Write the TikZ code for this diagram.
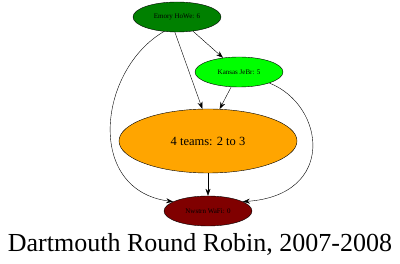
\documentclass[tikz,border=0pt]{standalone}
\usepackage{fontspec}
\setmainfont{Liberation Serif}
\usetikzlibrary{shapes.geometric,arrows.meta}
\definecolor{darkgreen}{RGB}{0,128,0}
\definecolor{lime}{RGB}{0,255,0}
\definecolor{maroon}{RGB}{128,0,0}
\definecolor{gvorange}{RGB}{255,165,0}
\begin{document}
\begin{tikzpicture}[x=1pt,y=-1pt,
    team/.style={shape=ellipse,draw=black,inner sep=0pt,minimum width=88pt,minimum height=30pt,font=\fontsize{7}{8}\selectfont},
    link/.style={-{Stealth[length=7pt,width=5pt]},black}]
    \useasboundingbox (0,0) rectangle (400,264);

    \node[team, fill=darkgreen] (emory) at (177,17) {Emory HoWe: 6};
    \node[team, fill=lime] (kansas) at (239,72) {Kansas JeBr: 5};
    \node[team, fill=gvorange, minimum width=178pt, minimum height=64pt, font=\fontsize{12.5}{14}\selectfont] (tie) at (208,141) {4 teams: 2 to 3};
    \node[team, fill=maroon] (nwstrn) at (208,211) {Nwstrn WaFi: 0};

    \path [link] (emory) edge (kansas);
    \path [link] (emory.262) edge (tie.100);
    \path [link] (kansas) edge (tie.70);
    \path [link] (tie) edge (nwstrn);
    \draw [link] (emory.228) .. controls (98,70) and (85,190) .. (nwstrn.165);
    \draw [link] (kansas.340) .. controls (325,105) and (337,195) .. (nwstrn.15);

    \node (title) at (200,244) {\fontsize{26}{30}\selectfont Dartmouth Round Robin, 2007-2008};
\end{tikzpicture}
\end{document}
